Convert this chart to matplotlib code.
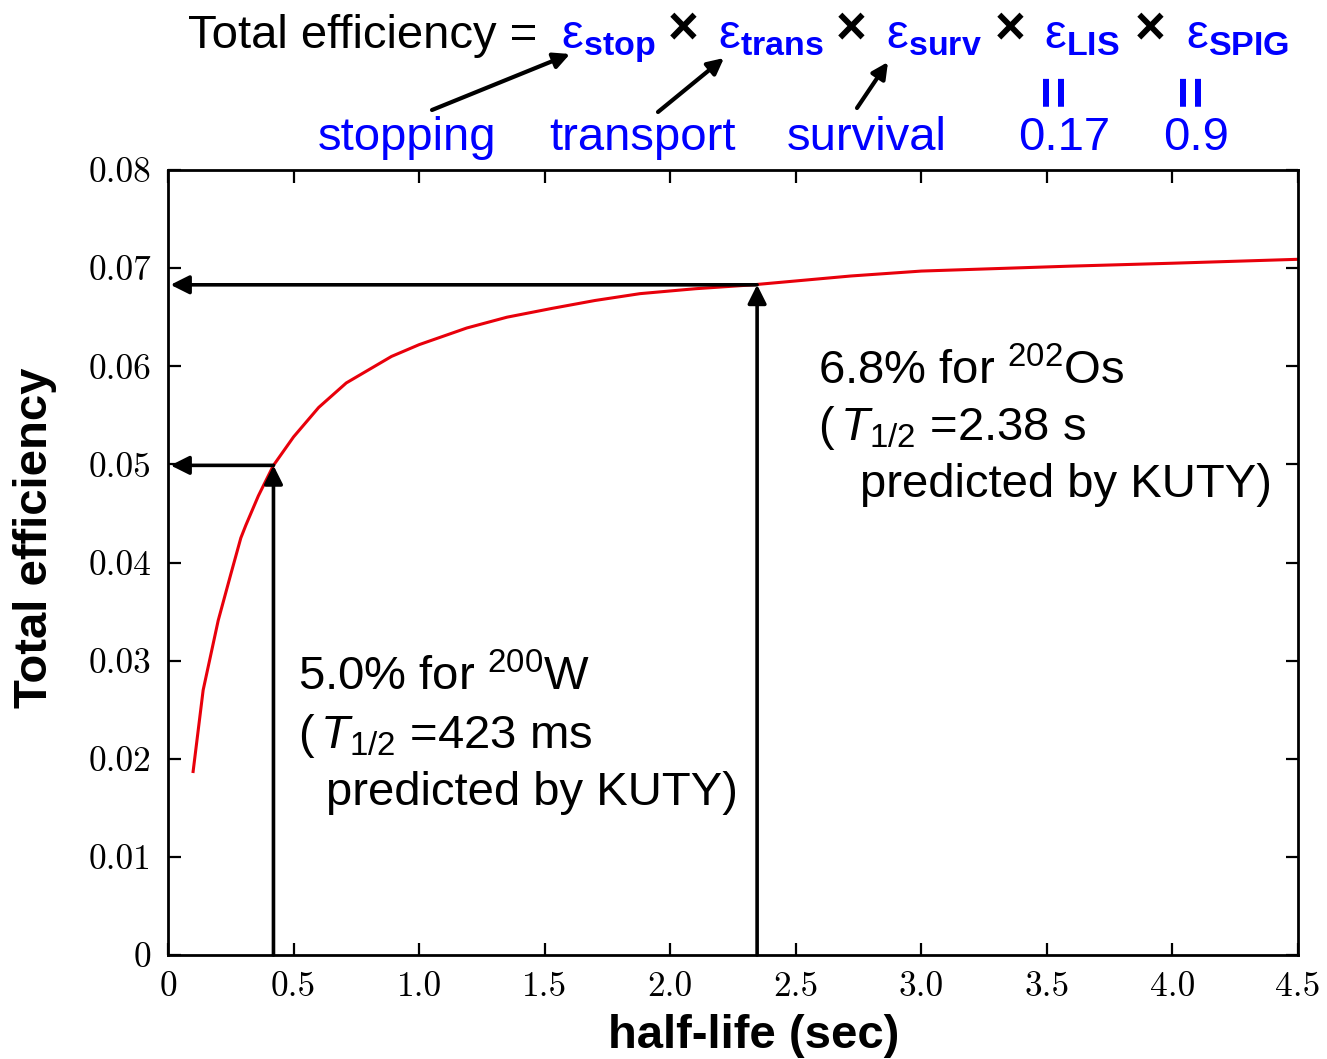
import matplotlib
matplotlib.use("Agg")
import matplotlib.pyplot as plt

# curve
half_life = [0.10, 0.14, 0.20, 0.25, 0.29, 0.31, 0.36, 0.42, 0.50, 0.60, 0.71,
             0.89, 1.00, 1.19, 1.35, 1.53, 1.70, 1.88, 2.10, 2.33, 2.72, 3.00,
             3.59, 4.00, 4.50]
efficiency = [0.0187, 0.0270, 0.0341, 0.0388, 0.0425, 0.0438, 0.0468, 0.0499,
              0.0528, 0.0558, 0.0583, 0.0610, 0.0622, 0.0639, 0.0650, 0.0659,
              0.0667, 0.0674, 0.0679, 0.0683, 0.0692, 0.0697, 0.0702, 0.0705,
              0.0709]

# marked nuclei (half-life on axis, efficiency)
w200 = (0.42, 0.0499)
os202 = (2.346, 0.0683)

xticks = [0, 0.5, 1.0, 1.5, 2.0, 2.5, 3.0, 3.5, 4.0, 4.5]
xtick_labels = ["0", "0.5", "1.0", "1.5", "2.0", "2.5", "3.0", "3.5", "4.0", "4.5"]
yticks = [0, 0.01, 0.02, 0.03, 0.04, 0.05, 0.06, 0.07, 0.08]
ytick_labels = ["0", "0.01", "0.02", "0.03", "0.04", "0.05", "0.06", "0.07", "0.08"]

plt.rcParams["font.family"] = ["Liberation Sans", "DejaVu Sans"]
plt.rcParams["mathtext.fontset"] = "custom"
plt.rcParams["mathtext.rm"] = "Liberation Sans"
plt.rcParams["mathtext.it"] = "Liberation Sans:italic"
plt.rcParams["mathtext.bf"] = "Liberation Sans:bold"

W, H = 1327, 1059
fig = plt.figure(figsize=(W / 100, H / 100), dpi=100)
ax = fig.add_axes([168 / W, 1 - 955 / H, (1298 - 168) / W, (955 - 170) / H])


def fp(x, y):
    """pixel (from top-left) -> figure fraction"""
    return x / W, 1 - y / H


ax.plot(half_life, efficiency, color="#e8000b", lw=2.2)

arrow = dict(arrowstyle="-|>", color="black", lw=2.6, mutation_scale=28,
             shrinkA=0, shrinkB=0)
for hl, eff in [w200, os202]:
    ax.annotate("", xy=(hl, eff), xytext=(hl, 0), arrowprops=arrow)
    ax.annotate("", xy=(0.01, eff), xytext=(hl, eff), arrowprops=arrow)

ax.set_xlim(0, 4.5)
ax.set_ylim(0, 0.08)
ax.set_xticks(xticks, xtick_labels)
ax.set_yticks(yticks, ytick_labels)
ax.tick_params(direction="in", length=9, width=1.6, top=True, right=True,
               labelsize=25.5, pad=12)
for lab in ax.get_xticklabels() + ax.get_yticklabels():
    lab.set_family("cmr10")
for sp in ax.spines.values():
    sp.set_linewidth(2.0)

ax.set_xlabel("half-life (sec)", fontsize=34, fontweight="bold")
ax.set_ylabel("Total efficiency", fontsize=34, fontweight="bold")
ax.xaxis.set_label_coords(0.518, -0.075)
ax.yaxis.set_label_coords(-0.098, 0.532)

# annotations inside the plot (data coordinates)
ax.text(2.589, 0.0581, "6.8% for $^{202}$Os", fontsize=34, va="baseline")
ax.text(2.589, 0.0525, "($\\,T_{1/2}$ =2.38 s", fontsize=34, va="baseline")
ax.text(2.756, 0.0467, "predicted by KUTY)", fontsize=34, va="baseline")
ax.text(0.518, 0.0270, "5.0% for $^{200}$W", fontsize=34, va="baseline")
ax.text(0.518, 0.0211, "($\\,T_{1/2}$ =423 ms", fontsize=34, va="baseline")
ax.text(0.629, 0.0153, "predicted by KUTY)", fontsize=34, va="baseline")

# equation on top
fig.text(*fp(188, 48), "Total efficiency =", fontsize=34, va="baseline")
eps_terms = [("stop", 561), ("trans", 718), ("surv", 886), ("LIS", 1044), ("SPIG", 1186)]
for name, x in eps_terms:
    fig.text(*fp(x, 48), r"$\mathrm{ε}_{\mathbf{%s}}$" % name, fontsize=35,
             color="blue", va="baseline")
for x in [683, 851, 1010, 1150]:
    fig.text(*fp(x, 30), "×", fontsize=38, fontweight="bold", ha="center",
             va="center")
for x in [1057, 1194]:
    fig.text(*fp(x, 90), "=", fontsize=40, fontweight="bold", color="blue",
             rotation=90, ha="center", va="center")

labels = [("stopping", 318), ("transport", 549), ("survival", 787),
          ("0.17", 1018), ("0.9", 1163)]
for t, x in labels:
    fig.text(*fp(x, 150), t, fontsize=34, color="blue", va="baseline")

for start, end in [((432, 110), (570, 54)), ((658, 112), (724, 58)),
                   ((857, 108), (888, 62))]:
    fig.add_artist(matplotlib.patches.FancyArrowPatch(
        fp(*start), fp(*end), transform=fig.transFigure,
        arrowstyle="-|>", mutation_scale=24, lw=3, color="black",
        shrinkA=0, shrinkB=0))

fig.savefig("out.png", dpi=100)
